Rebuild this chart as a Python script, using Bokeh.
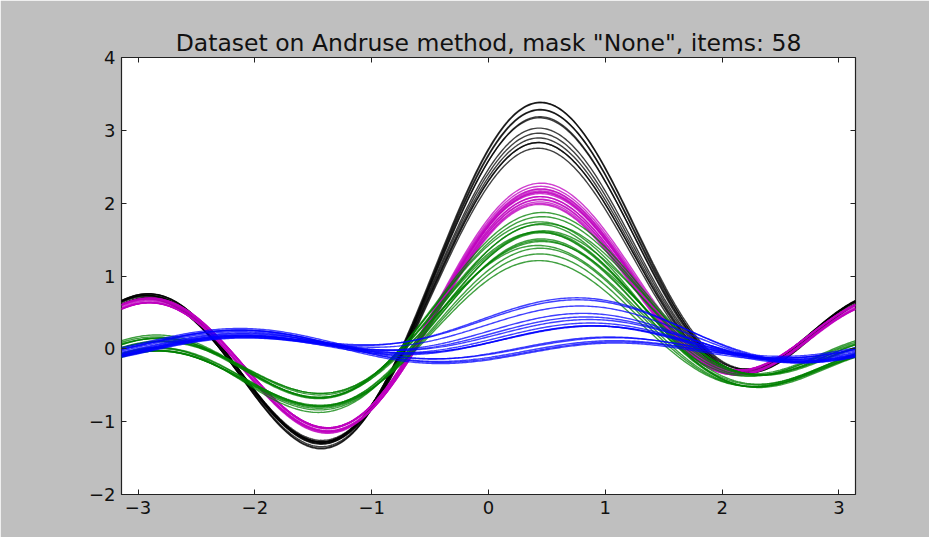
import numpy as np
from bokeh.plotting import figure
from bokeh.models import LinearAxis, Range1d, CustomJSTickFormatter, FixedTicker
from bokeh.embed import file_html
from bokeh.resources import INLINE

TITLE = 'Dataset on Andruse method, mask "None", items: 58'
X_TICKS = [-3, -2, -1, 0, 1, 2, 3]
Y_TICKS = [-2, -1, 0, 1, 2, 3, 4]

# Feature values (x1..x5) of each item, per class; drawn as Andrews curves
# f(t) = x1/sqrt(2) + x2 sin t + x3 cos t + x4 sin 2t + x5 cos 2t
class_black = [
    [0.94, 0.984, 1.064, 0.902, 1.001],
    [1.00, 0.970, 1.044, 0.891, 0.995],
    [0.90, 0.956, 1.025, 0.880, 0.990],
    [0.96, 0.941, 1.005, 0.869, 0.984],
    [0.87, 0.927, 0.986, 0.858, 0.979],
    [0.92, 0.907, 0.959, 0.842, 0.971],
    [0.85, 0.870, 0.909, 0.813, 0.957],
    [0.82, 0.850, 0.882, 0.798, 0.950],
    [0.78, 0.836, 0.862, 0.786, 0.944],
    [0.73, 0.825, 0.847, 0.777, 0.940],
    [0.77, 0.813, 0.831, 0.769, 0.936],
    [0.70, 0.802, 0.816, 0.760, 0.931],
]
class_magenta = [
    [0.60, 0.669, 0.592, 0.697, 0.773],
    [0.50, 0.663, 0.584, 0.692, 0.771],
    [0.58, 0.657, 0.576, 0.688, 0.769],
    [0.49, 0.651, 0.568, 0.683, 0.767],
    [0.57, 0.646, 0.561, 0.679, 0.765],
    [0.51, 0.643, 0.557, 0.677, 0.764],
    [0.56, 0.637, 0.549, 0.672, 0.761],
    [0.47, 0.632, 0.541, 0.668, 0.759],
    [0.54, 0.629, 0.537, 0.665, 0.758],
    [0.45, 0.623, 0.530, 0.661, 0.756],
    [0.52, 0.617, 0.522, 0.657, 0.754],
    [0.44, 0.612, 0.514, 0.652, 0.752],
    [0.50, 0.606, 0.506, 0.648, 0.749],
    [0.43, 0.600, 0.499, 0.643, 0.747],
    [0.47, 0.594, 0.491, 0.639, 0.745],
]
class_green = [
    [0.44, 0.503, 0.721, 0.514, 0.466],
    [0.20, 0.494, 0.710, 0.507, 0.503],
    [0.42, 0.486, 0.698, 0.500, 0.459],
    [0.16, 0.477, 0.686, 0.494, 0.456],
    [0.38, 0.469, 0.675, 0.487, 0.413],
    [0.20, 0.460, 0.663, 0.480, 0.449],
    [0.40, 0.454, 0.655, 0.476, 0.483],
    [0.13, 0.446, 0.644, 0.469, 0.444],
    [0.35, 0.437, 0.632, 0.463, 0.403],
    [0.15, 0.432, 0.625, 0.458, 0.439],
    [0.32, 0.420, 0.609, 0.449, 0.473],
    [0.08, 0.409, 0.594, 0.440, 0.430],
    [0.28, 0.397, 0.578, 0.431, 0.393],
    [0.05, 0.386, 0.563, 0.422, 0.421],
    [0.24, 0.372, 0.543, 0.411, 0.443],
    [0.02, 0.358, 0.524, 0.400, 0.411],
]
class_blue = [
    [0.274, 0.130, 0.276, 0.219, -0.033],
    [0.280, 0.117, 0.252, 0.214, -0.036],
    [0.223, 0.099, 0.218, 0.206, -0.041],
    [0.162, 0.075, 0.174, 0.196, -0.047],
    [0.154, 0.056, 0.140, 0.189, -0.052],
    [0.157, 0.040, 0.111, 0.182, -0.057],
    [0.115, 0.033, 0.097, 0.178, -0.059],
    [0.077, 0.027, 0.087, 0.176, -0.061],
    [0.098, 0.022, 0.078, 0.173, -0.062],
    [0.117, 0.014, 0.063, 0.169, -0.065],
    [0.053, -0.035, -0.028, 0.151, -0.077],
    [0.070, -0.046, -0.047, 0.146, -0.080],
    [0.027, -0.051, -0.057, 0.144, -0.081],
    [-0.010, -0.054, -0.062, 0.142, -0.082],
    [0.019, -0.056, -0.067, 0.141, -0.083],
]
CLASSES = [class_black, class_magenta, class_green, class_blue]
COLORS = ["#000000", "#bf00bf", "#008000", "#0000ff"]

t = np.linspace(-np.pi, np.pi, 400)


def andrews(x):
    return (x[0] / np.sqrt(2) + x[1] * np.sin(t) + x[2] * np.cos(t)
            + x[3] * np.sin(2 * t) + x[4] * np.cos(2 * t))


p = figure(width=929, height=537, output_backend="svg", toolbar_location=None,
           x_range=Range1d(-np.pi, np.pi), y_range=Range1d(-2, 4),
           min_border_left=121, min_border_right=74, min_border_top=57,
           min_border_bottom=43, background_fill_color="white",
           border_fill_color="#bfbfbf", title=TITLE)

for items, col in zip(CLASSES, COLORS):
    xs = [t for _ in items]
    ys = [andrews(x) for x in items]
    p.multi_line(xs, ys, line_color=col, line_width=1.4, line_alpha=0.75)

p.grid.visible = False
p.outline_line_color = "#222222"
p.outline_line_width = 1.2
p.outline_line_alpha = 1

p.title.text_font = "DejaVu Sans"
p.title.text_font_size = "23.5px"
p.title.text_font_style = "normal"
p.title.text_color = "#111111"
p.title.align = "center"
p.title.standoff = 2

minus_fmt = CustomJSTickFormatter(code="return tick < 0 ? '\u2212' + Math.abs(tick) : String(tick);")
blank_fmt = CustomJSTickFormatter(code="return '';")

p.xaxis.ticker = FixedTicker(ticks=X_TICKS)
p.yaxis.ticker = FixedTicker(ticks=Y_TICKS)
for ax in [p.xaxis[0], p.yaxis[0]]:
    ax.formatter = minus_fmt
    ax.axis_line_color = None
    ax.major_tick_in = 5
    ax.major_tick_out = 0
    ax.major_tick_line_color = "#222222"
    ax.minor_tick_line_color = None
    ax.major_label_text_font = "DejaVu Sans"
    ax.major_label_text_font_size = "18px"
    ax.major_label_text_color = "#111111"
    ax.major_label_standoff = 6

top_ax = LinearAxis(ticker=FixedTicker(ticks=X_TICKS), formatter=blank_fmt,
                    axis_line_color=None, major_tick_in=5, major_tick_out=0,
                    major_tick_line_color="#222222", minor_tick_line_color=None,
                    major_label_text_font_size="1px", major_label_standoff=0)
right_ax = LinearAxis(ticker=FixedTicker(ticks=Y_TICKS), formatter=blank_fmt,
                      axis_line_color=None, major_tick_in=5, major_tick_out=0,
                      major_tick_line_color="#222222", minor_tick_line_color=None,
                      major_label_text_font_size="1px", major_label_standoff=0)
p.add_layout(top_ax, "above")
p.add_layout(right_ax, "right")

open("out.html", "w").write(file_html(p, INLINE))
